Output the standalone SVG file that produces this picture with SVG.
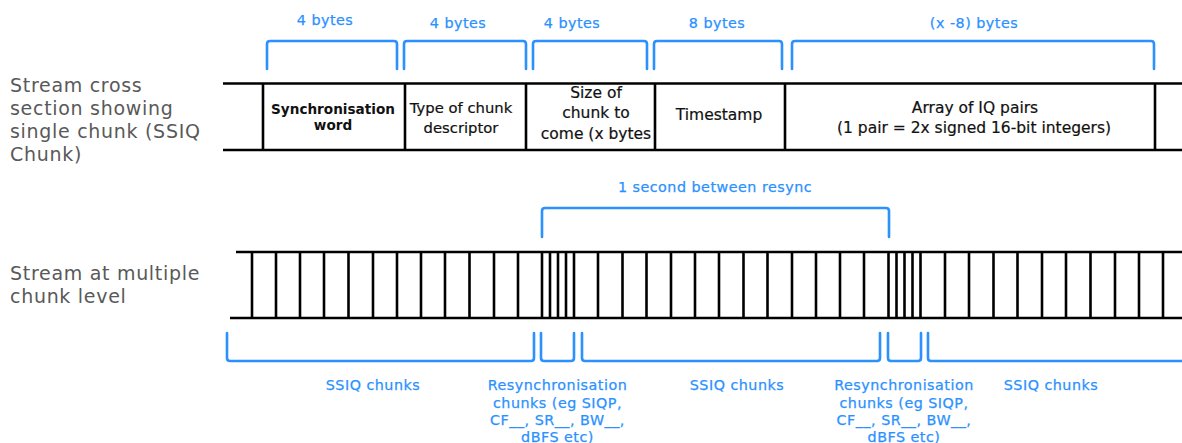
<svg xmlns="http://www.w3.org/2000/svg" width="1182" height="443" viewBox="0 0 1182 443">
<style>
.bl{fill:none;stroke:#2b91ff;stroke-width:2.6;stroke-linecap:round}
.ln{stroke:#000;stroke-width:2.4;fill:none}
.tk{stroke:#000;stroke-width:2.6}
.bt{font-family:"DejaVu Sans",sans-serif;font-size:14.3px;fill:#2b91ff;stroke:#2b91ff;stroke-width:0.25;letter-spacing:0.5px;text-anchor:middle}
.bx{font-family:"DejaVu Sans",sans-serif;font-size:15.5px;fill:#111;stroke:#111;stroke-width:0.2;text-anchor:middle}
.bxb{font-family:"DejaVu Sans",sans-serif;font-size:13.6px;font-weight:bold;fill:#111;text-anchor:middle}
.side{font-family:"DejaVu Sans",sans-serif;font-size:19px;fill:#595959;letter-spacing:0.7px}
</style>
<rect width="1182" height="443" fill="#fff"/>
<g id="side-labels">
<text class="side" x="10" y="91.5">Stream cross</text>
<text class="side" x="10" y="114.5">section showing</text>
<text class="side" x="10" y="137.5">single chunk (SSIQ</text>
<text class="side" x="10" y="160.5">Chunk)</text>
<text class="side" x="10" y="280">Stream at multiple</text>
<text class="side" x="10" y="303">chunk level</text>
</g>
<g id="chunk-frame">
<line class="ln" x1="223" y1="83.5" x2="1182" y2="83.5"/>
<line class="ln" x1="223" y1="150" x2="1182" y2="150"/>
<line class="tk" x1="263" y1="83" x2="263" y2="151"/>
<line class="tk" x1="405" y1="83" x2="405" y2="151"/>
<line class="tk" x1="526" y1="83" x2="526" y2="151"/>
<line class="tk" x1="655" y1="83" x2="655" y2="151"/>
<line class="tk" x1="785" y1="83" x2="785" y2="151"/>
<line class="tk" x1="1155" y1="83" x2="1155" y2="151"/>
</g>
<g id="field-sync"><text class="bxb" x="333" y="113.5">Synchronisation</text><text class="bxb" x="333" y="130">word</text></g>
<g id="field-type"><text class="bx" x="461" y="113" style="font-size:14.8px">Type of chunk</text><text class="bx" x="461" y="133" style="font-size:14.8px">descriptor</text></g>
<g id="field-size"><text class="bx" x="596" y="97.5">Size of</text><text class="bx" x="596" y="118">chunk to</text><text class="bx" x="596" y="138.5">come (x bytes</text></g>
<g id="field-time"><text class="bx" x="719" y="120">Timestamp</text></g>
<g id="field-array"><text class="bx" x="975" y="113">Array of IQ pairs</text><text class="bx" x="974" y="133">(1 pair = 2x signed 16-bit integers)</text></g>
<g id="byte-brackets">
<path class="bl" d="M267,69V44Q267,41 270,41H394Q397,41 397,44V69"/>
<path class="bl" d="M404,69V44Q404,41 407,41H523Q526,41 526,44V69"/>
<path class="bl" d="M533,69V44Q533,41 536,41H644Q647,41 647,44V69"/>
<path class="bl" d="M654,69V44Q654,41 657,41H779Q782,41 782,44V69"/>
<path class="bl" d="M792,69V44Q792,41 795,41H1151Q1154,41 1154,44V69"/>
<text class="bt" x="325" y="25">4 bytes</text>
<text class="bt" x="458" y="28">4 bytes</text>
<text class="bt" x="572" y="28">4 bytes</text>
<text class="bt" x="717" y="28">8 bytes</text>
<text class="bt" x="974" y="28">(x -8) bytes</text>
</g>
<g id="stream-frame">
<line class="ln" x1="236" y1="252" x2="1182" y2="252"/>
<line class="ln" x1="230" y1="318" x2="1182" y2="318"/>
<path class="tk" d="M252,252V318M276,252V318M300,252V318M324,252V318M348.5,252V318M373,252V318M397,252V318M421,252V318M445,252V318M469.5,252V318M494,252V318M518,252V318M542,252V318M550,252V318M558,252V318M566,252V318M574,252V318M598,252V318M622.5,252V318M646.5,252V318M671,252V318M695,252V318M719,252V318M743.5,252V318M767.5,252V318M792,252V318M816,252V318M840,252V318M864,252V318M888.5,252V318M896.5,252V318M904.5,252V318M912.5,252V318M920.5,252V318M945,252V318M969,252V318M993.5,252V318M1017.5,252V318M1042,252V318M1066,252V318M1090.5,252V318M1115,252V318M1139,252V318M1163,252V318"/>
</g>
<g id="resync-interval">
<path class="bl" d="M542,237V211Q542,208 545,208H886Q889,208 889,211V237"/>
<text class="bt" x="715" y="192">1 second between resync</text>
</g>
<g id="group-brackets">
<path class="bl" d="M227,333V358Q227,361 230,361H531Q534,361 534,358V333"/>
<path class="bl" d="M541,333V358Q541,361 544,361H571Q574,361 574,358V333"/>
<path class="bl" d="M582,333V358Q582,361 585,361H877Q880,361 880,358V333"/>
<path class="bl" d="M888,333V358Q888,361 891,361H918Q921,361 921,358V333"/>
<path class="bl" d="M928,333V358Q928,361 931,361H1184"/>
</g>
<g id="group-labels">
<text class="bt" x="373" y="390">SSIQ chunks</text>
<text class="bt" x="557.5" y="390">Resynchronisation</text>
<text class="bt" x="557.5" y="407.5">chunks (eg SIQP,</text>
<text class="bt" x="557.5" y="425">CF__, SR__, BW__,</text>
<text class="bt" x="557.5" y="442">dBFS etc)</text>
<text class="bt" x="737" y="390">SSIQ chunks</text>
<text class="bt" x="904" y="390">Resynchronisation</text>
<text class="bt" x="904" y="407.5">chunks (eg SIQP,</text>
<text class="bt" x="904" y="425">CF__, SR__, BW__,</text>
<text class="bt" x="904" y="442">dBFS etc)</text>
<text class="bt" x="1051" y="390">SSIQ chunks</text>
</g>
</svg>
